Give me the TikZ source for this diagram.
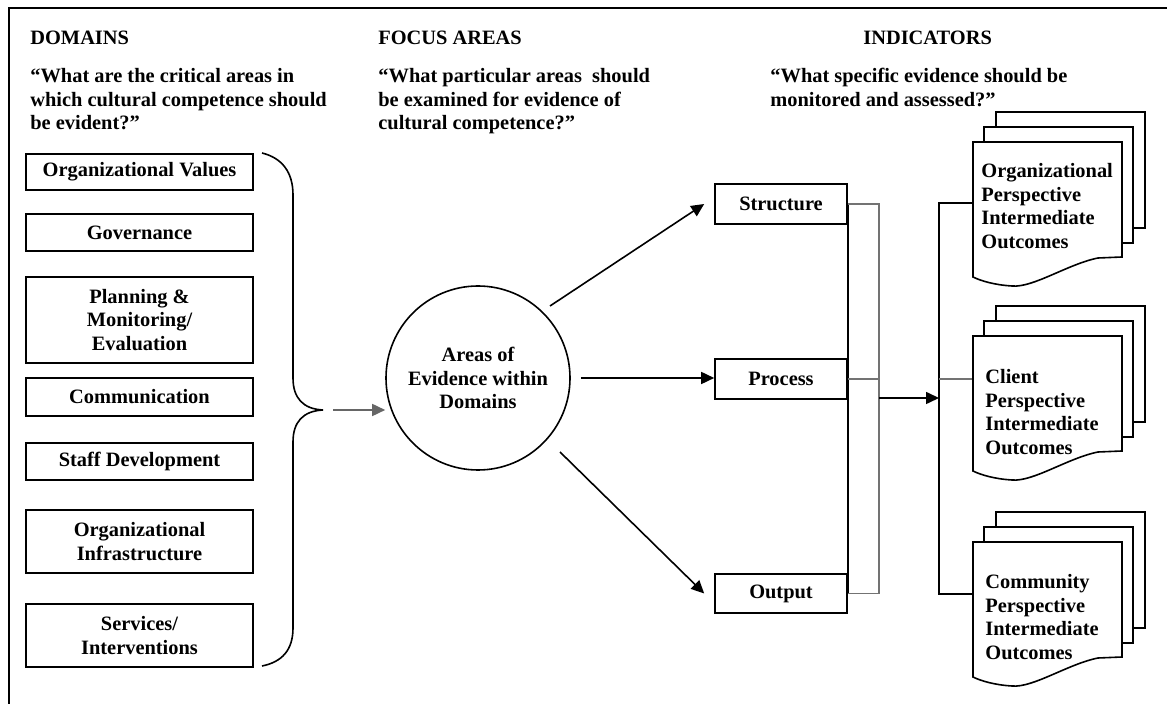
\documentclass[tikz,border=0pt]{standalone}
\usepackage{fontspec}
\setmainfont{Liberation Serif}
\usetikzlibrary{arrows.meta}
\begin{document}
\begin{tikzpicture}[x=0.5pt,y=-0.5pt,
  font=\fontsize{10.2pt}{11.8pt}\selectfont\bfseries,
  box/.style={draw, line width=0.8pt, inner sep=0pt, align=center, minimum width=113.5pt},
  fbox/.style={draw, line width=0.8pt, inner sep=0pt, minimum width=66pt, minimum height=20pt},
  arr/.style={line width=0.8pt, -{Triangle[length=6.5pt,width=6pt]}},
  ln/.style={line width=0.8pt},
  gln/.style={line width=0.8pt, black!55},
  hdr/.style={anchor=base west, inner sep=0pt},
  quote/.style={anchor=north west, inner sep=0pt, align=left},
  doctext/.style={anchor=north west, inner sep=0pt, align=left},
  sheet/.style={draw, fill=white, line width=0.8pt},
]
\useasboundingbox (0,0) rectangle (1167,704);
% frame
\draw[line width=1.1pt] (9,704) -- (9,8) -- (1167,8);
% headers
\node[hdr] (h1) at (30,45) {DOMAINS};
\node[hdr] (h2) at (378,45) {FOCUS AREAS};
\node[hdr] (h3) at (863,45) {INDICATORS};
\node[quote] (q1) at (30,68) {“What are the critical areas in\\which cultural competence should\\be evident?”};
\node[quote] (q2) at (378,68) {“What particular areas\ \ should\\be examined for evidence of\\cultural competence?”};
\node[quote] (q3) at (770,68) {“What specific evidence should be\\monitored and assessed?”};
% domain boxes
\node[box, minimum height=18pt] (ov) at (139.5,172) {Organizational Values};
\node[box, minimum height=18.5pt] (gov) at (139.5,232.5) {Governance};
\node[box, minimum height=43pt] (plan) at (139.5,320) {Planning \&\\Monitoring/\\Evaluation};
\node[box, minimum height=19pt] (comm) at (139.5,397) {Communication};
\node[box, minimum height=18.5pt] (staff) at (139.5,461.5) {Staff Development};
\node[box, minimum height=31.5pt] (oinf) at (139.5,541.5) {Organizational\\Infrastructure};
\node[box, minimum height=31.5pt] (serv) at (139.5,635.5) {Services/\\Interventions};
% brace
\coordinate (btip) at (323,410);
\draw[ln] (262,153) .. controls (282,158) and (293,172) .. (293,195) -- (293,378)
  .. controls (293,398) and (303,409) .. (btip)
  .. controls (303,411) and (293,422) .. (293,442) -- (293,628)
  .. controls (293,650) and (282,662) .. (262,666);
% circle
\node[draw, circle, line width=0.8pt, minimum size=92pt, inner sep=0pt, align=center] (circ) at (478,378) {Areas of\\Evidence within\\Domains};
\draw[arr, black!60] ([xshift=5pt]btip) -- (circ.west |- btip);
% focus boxes
\node[fbox] (st) at (781,204) {Structure};
\node[fbox] (pr) at (781,379) {Process};
\node[fbox, minimum height=19.5pt] (out) at (781,593.5) {Output};
\coordinate (s1) at (550,306);
\coordinate (s3) at (560,452);
\draw[arr] (s1) -- ([xshift=-5pt]st.west);
\draw[arr] (s3) -- ([xshift=-5pt]out.west);
\draw[arr] ([xshift=5pt]circ.east) -- (circ.east -| pr.west);
% connectors
\coordinate (bx) at (879,0);
\draw[ln] (st.east) -- (out.east);
\draw[gln] (st.east) -- (st.east -| bx) -- (out.east -| bx) -- (out.east);
\draw[gln] (pr.east) -- (pr.east -| bx);
\coordinate (a0) at (879,398);
\coordinate (a1) at (939,398);
\draw[arr] (a0) -- (a1);
\coordinate (c1) at (973,203);
\coordinate (c2) at (973,379);
\coordinate (c3) at (973,594);
\draw[ln] (c1) -- (c1 -| a1) -- (c3 -| a1) -- (c3);
\draw[gln] (c2 -| a1) -- (c2);
% document stacks
\foreach \T in {142,336,542}{
  \begin{scope}[shift={(973,\T)}]
    \draw[sheet] (23,-30) rectangle (172,86);
    \draw[sheet] (11,-15) rectangle (160,101);
    \draw[sheet] (0,0) -- (149,0) -- (149,115) -- (125,116)
      .. controls (95,122) and (60,146) .. (39,144)
      .. controls (22,143) and (8,139) .. (0,135) -- cycle;
  \end{scope}
}
\node[doctext] (d1) at (981,163) {Organizational\\Perspective\\Intermediate\\Outcomes};
\node[doctext] (d2) at (985,369) {Client\\Perspective\\Intermediate\\Outcomes};
\node[doctext] (d3) at (985,574) {Community\\Perspective\\Intermediate\\Outcomes};
\end{tikzpicture}
\end{document}
